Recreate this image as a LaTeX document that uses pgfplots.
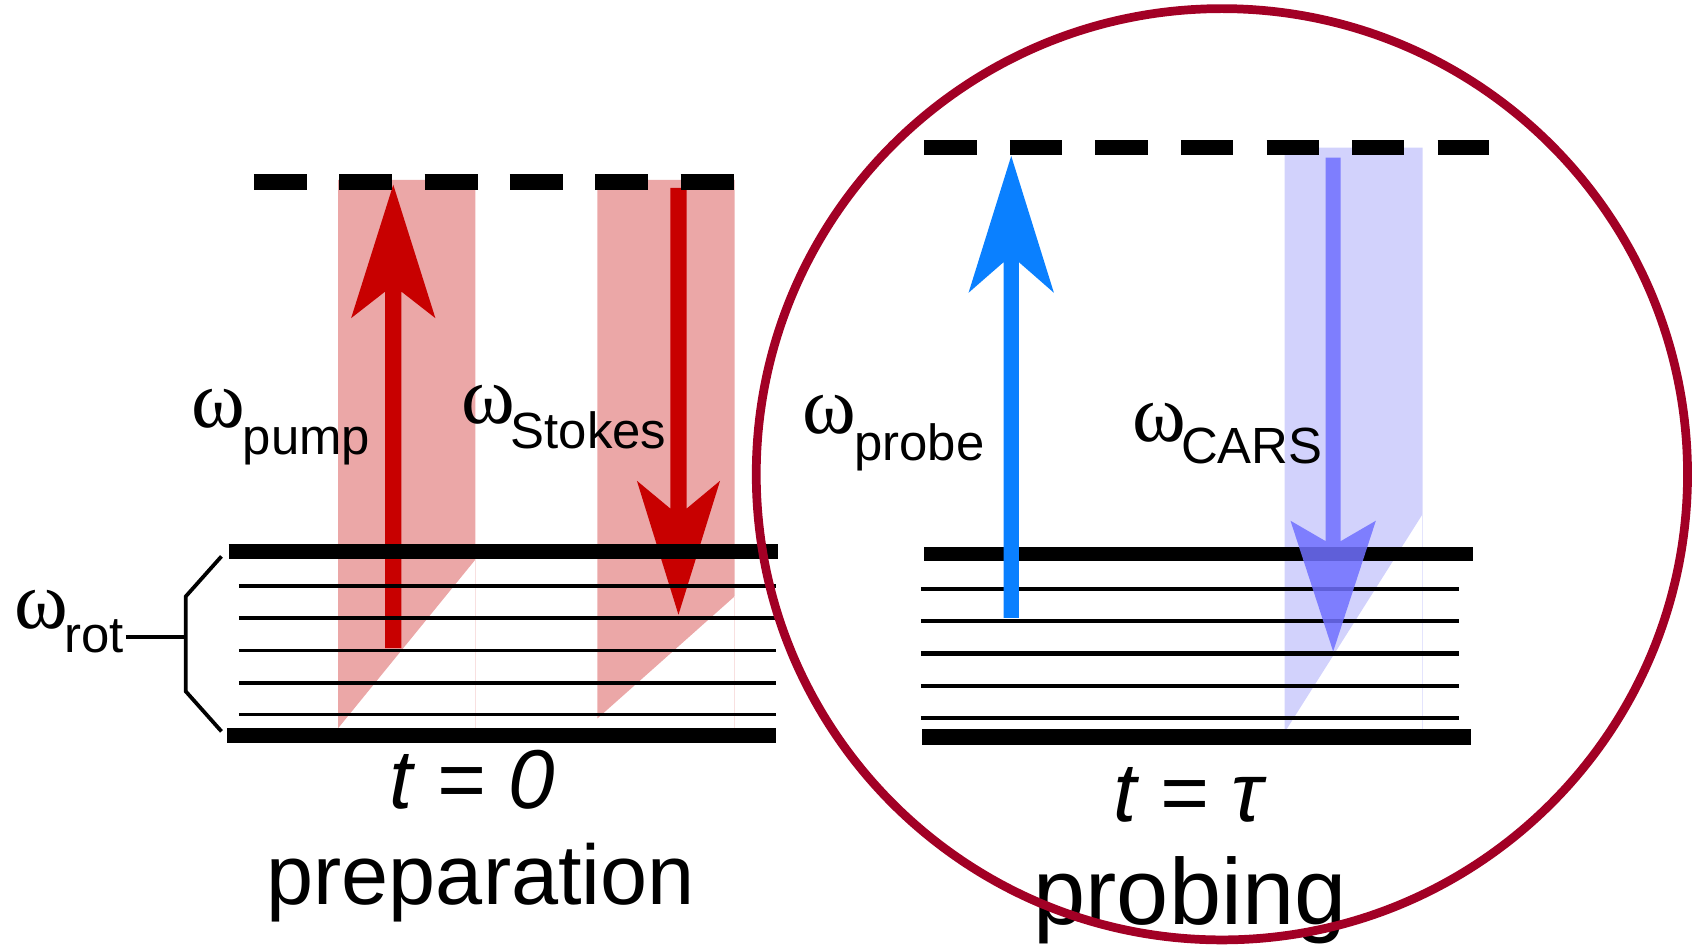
\documentclass[border=0pt]{standalone}
\usepackage{pgfplots}
\pgfplotsset{compat=1.18}
\usepackage{fontspec}
\setmainfont{Liberation Sans}
\newfontfamily\symfont{Liberation Serif}
\definecolor{band}{HTML}{EBA7A7}
\definecolor{dred}{HTML}{C80000}
\definecolor{probe}{HTML}{0A80FF}
\definecolor{lav}{HTML}{D2D2FC}
\definecolor{cars}{HTML}{7070FF}
\definecolor{ring}{HTML}{A20025}
\newcommand{\om}[3]{%
  \node[anchor=base west,inner sep=0] at (axis cs:#1,#2) {\fontsize{21.5}{22}\selectfont\symfont ω};}
\newcommand{\sub}[3]{%
  \node[anchor=base west,inner sep=0] at (axis cs:#1,#2) {\fontsize{13.4}{14}\selectfont #3};}
\begin{document}
\begin{tikzpicture}
\begin{axis}[
  scale only axis, width=15.68cm, height=8.78cm,
  xmin=0, xmax=1568, ymin=0, ymax=878, y dir=reverse,
  axis lines=none, clip=false, ticks=none]
% ---------- left panel: bands ----------
\addplot[fill=band, draw=none] coordinates {(313,166.5) (440,166.5) (440,518) (313,674)};
\addplot[fill=band, draw=none] coordinates {(553,166.5) (680,166.5) (680,552) (553,665)};
\addplot[band!35, line width=0.3pt] coordinates {(440,518) (440,680)};
\addplot[band!35, line width=0.3pt] coordinates {(680,552) (680,680)};
% pump arrow (up)
\addplot[fill=dred, draw=none] coordinates {(356.5,600) (356.5,269.9) (325,294.5) (364,171) (403,294.5) (371.5,269.9) (371.5,600)};
% Stokes arrow (down)
\addplot[fill=dred, draw=none] coordinates {(620.5,174) (620.5,470.8) (589.5,445) (628,569) (666.5,445) (635.5,470.8) (635.5,174)};
% levels left
\addplot[black, line width=0.135cm] coordinates {(211.6,510.4) (720,510.4)};
\addplot[black, line width=0.035cm] coordinates {(221,542.7) (718,542.7)};
\addplot[black, line width=0.035cm] coordinates {(221,571.7) (718,571.7)};
\addplot[black, line width=0.035cm] coordinates {(221,602.2) (718,602.2)};
\addplot[black, line width=0.035cm] coordinates {(221,631.9) (718,631.9)};
\addplot[black, line width=0.035cm] coordinates {(221,661.3) (718,661.3)};
\addplot[black, line width=0.14cm] coordinates {(210,680.8) (718,680.8)};
% dashed virtual level left
\addplot[black, line width=0.155cm, dash pattern=on 0.49cm off 0.30cm] coordinates {(235,168.5) (680,168.5)};
% bracket
\addplot[black, line width=0.035cm] coordinates {(205,515) (172,552) (172,640) (205,677)};
\addplot[black, line width=0.035cm] coordinates {(116.6,589.6) (172,589.6)};
% ---------- right panel ----------
\addplot[fill=lav, draw=none] coordinates {(1189,136.7) (1316.7,136.7) (1316.7,476) (1189,678)};
\addplot[lav!60, line width=0.3pt] coordinates {(1316.7,476) (1316.7,680)};
\addplot[black, line width=0.13cm] coordinates {(855.5,512.8) (1363,512.8)};
\addplot[black, line width=0.038cm] coordinates {(852.4,545.4) (1350,545.4)};
\addplot[black, line width=0.038cm] coordinates {(852.4,574.9) (1350,574.9)};
\addplot[black, line width=0.038cm] coordinates {(852.4,604.9) (1350,604.9)};
\addplot[black, line width=0.038cm] coordinates {(852.4,634.8) (1350,634.8)};
\addplot[black, line width=0.038cm] coordinates {(852.4,664.3) (1350,664.3)};
\addplot[black, line width=0.15cm] coordinates {(853.5,682.3) (1361.6,682.3)};
% CARS arrow (down, translucent)
\addplot[fill=cars, fill opacity=0.85, draw=none] coordinates {(1227,146) (1227,500.9) (1194.5,482) (1234,603) (1273.5,482) (1241,500.9) (1241,146)};
% probe arrow (up)
\addplot[fill=probe, draw=none] coordinates {(929,572) (929,242.6) (896.5,271) (936,144.4) (975.5,271) (943,242.6) (943,572)};
% dashed virtual level right
\addplot[black, line width=0.14cm, dash pattern=on 0.485cm off 0.307cm] coordinates {(855.5,136.7) (1378,136.7)};
% ---------- labels ----------
\om{177}{396}{}\sub{224}{421}{pump}
\om{426}{392}{}\sub{472}{415}{Stokes}
\om{742}{401}{}\sub{790}{426}{probe}
\om{1048}{409}{}\sub{1092.5}{429}{CARS}
\om{13}{582}{}\sub{58.6}{604}{rot}
\node[anchor=base west,inner sep=0] at (axis cs:360,748) {\fontsize{22}{24}\selectfont\itshape t = 0};
\node[anchor=base west,inner sep=0] at (axis cs:1030,760) {\fontsize{22}{24}\selectfont\itshape t = τ};
\node[anchor=base west,inner sep=0] at (axis cs:246,837) {\fontsize{22.3}{24}\selectfont preparation};
\node[anchor=base west,inner sep=0] at (axis cs:956,856) {\fontsize{24.7}{26}\selectfont probing};
% ring
\draw[ring, line width=2.3pt] (axis cs:1131,439) circle[radius=4.31cm];
\end{axis}
\pgfresetboundingbox
\path (current axis.south west) rectangle (current axis.north east);
\end{tikzpicture}
\end{document}
